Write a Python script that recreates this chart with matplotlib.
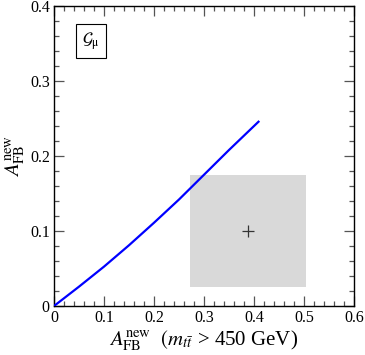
import matplotlib
matplotlib.use("Agg")
import matplotlib.pyplot as plt
from matplotlib.patches import Rectangle
from matplotlib.ticker import MultipleLocator

plt.rcParams['font.family'] = ['Liberation Serif', 'DejaVu Serif']
plt.rcParams['mathtext.fontset'] = 'stix'

# model curve (G_mu)
afb_all = [0.0, 0.05, 0.1, 0.15, 0.2, 0.25, 0.3, 0.35, 0.409]
afb_high = [0.0, 0.0258, 0.0525, 0.081, 0.111, 0.142, 0.175, 0.208, 0.2457]

# measurement: central value and 1 sigma box
meas_x = 0.387
meas_y = 0.100
box_x = [0.272, 0.504]
box_y = [0.025, 0.175]

fig = plt.figure(figsize=(3.65, 3.55), dpi=100)
ax = fig.add_axes([54 / 365, 49 / 355, 300 / 365, 300 / 355])

ax.add_patch(Rectangle((box_x[0], box_y[0]), box_x[1] - box_x[0], box_y[1] - box_y[0],
                       facecolor='#d9d9d9', edgecolor='none', zorder=1))
ax.plot([meas_x], [meas_y], marker='+', color='#333333', markersize=8,
        markeredgewidth=0.9, linestyle='none', zorder=2)
ax.plot(afb_all, afb_high, color='#0000ff', linewidth=1.6, zorder=3)

ax.set_xlim(0, 0.6)
ax.set_ylim(0, 0.4)
ax.xaxis.set_minor_locator(MultipleLocator(0.02))
ax.yaxis.set_minor_locator(MultipleLocator(0.02))
ax.set_xticks([0, 0.1, 0.2, 0.3, 0.4, 0.5, 0.6])
ax.set_xticklabels(['0', '0.1', '0.2', '0.3', '0.4', '0.5', '0.6'])
ax.set_yticks([0, 0.1, 0.2, 0.3, 0.4])
ax.set_yticklabels(['0', '0.1', '0.2', '0.3', '0.4'])
ax.tick_params(which='both', direction='in', top=True, right=True, labelsize=11.5,
               width=0.9, colors='#555555', labelcolor='black')
ax.tick_params(which='major', length=7, pad=3)
ax.tick_params(which='minor', length=3.5)
for s in ax.spines.values():
    s.set_linewidth(1.0)

ax.set_xlabel(r'$A_{\rm FB}^{\rm new}$  $(m_{t\bar{t}}$ > 450 GeV)', fontsize=15, labelpad=2)
ax.set_ylabel(r'$A_{\rm FB}^{\rm new}$', fontsize=15, labelpad=2)

ax.text(0.123, 0.883, r'$\mathcal{G}_{\mathrm{\mu}}$', transform=ax.transAxes, fontsize=12,
        ha='center', va='center',
        bbox=dict(boxstyle='square,pad=0.35', facecolor='white', edgecolor='black', linewidth=0.8))

fig.savefig('out.png', dpi=100)
